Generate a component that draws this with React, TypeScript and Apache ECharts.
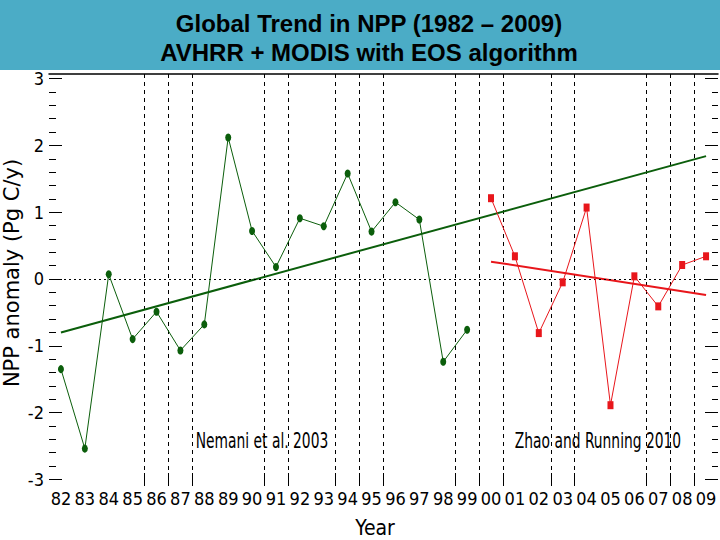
import React, { useEffect, useRef } from "react";
import * as echarts from "echarts";

// ---- data ----
const years = ["82","83","84","85","86","87","88","89","90","91","92","93","94","95","96","97","98","99","00","01","02","03","04","05","06","07","08","09"];
const greenYears = ["82","83","84","85","86","87","88","89","90","91","92","93","94","95","96","97","98","99"];
const greenValues = [-1.35, -2.54, 0.07, -0.9, -0.49, -1.07, -0.68, 2.12, 0.72, 0.18, 0.91, 0.79, 1.58, 0.71, 1.15, 0.89, -1.24, -0.76];
const redYears = ["00","01","02","03","04","05","06","07","08","09"];
const redValues = [1.21, 0.34, -0.81, -0.05, 1.07, -1.89, 0.04, -0.41, 0.21, 0.34];
const greenTrendYears = ["82", "09"];
const greenTrendValues = [-0.8, 1.84];
const redTrendYears = ["00", "09"];
const redTrendValues = [0.26, -0.24];
const yTickLabels = [-3, -2, -1, 0, 1, 2, 3];
// dashed separators drawn between a year and the next one
const dividerAfter = ["85","86","87","90","91","93","94","95","98","99","00","02","03","06","07","08"];

const GREEN = "#0b5e0b";
const RED = "#e8161b";
const NARROW = "'Liberation Sans Narrow', 'DejaVu Sans Condensed', 'Arial Narrow', sans-serif";

const idx = (y: string) => years.indexOf(y);
const dividerPos = dividerAfter.map((y) => idx(y) + 0.5);
const yearPos = years.map((_, i) => i);
const minorTicks: number[] = [];
for (let k = -15; k <= 15; k++) {
  if (k % 5 !== 0) minorTicks.push(k / 5);
}

const Y_MIN = -3.1;
const Y_MAX = 3.07;
const GRID = { left: 49, right: 2, top: 74, bottom: 54 };

function buildOption(): any {
  const yBase = {
    type: "value",
    min: Y_MIN,
    max: Y_MAX,
    axisLine: { show: false, onZero: false },
    splitLine: { show: false },
  };
  const annot = (text: string, x: number) => ({
    type: "text",
    x,
    y: 440,
    scaleX: 0.7,
    style: {
      text,
      fill: "#000",
      font: `22px 'DejaVu Sans Condensed', 'DejaVu Sans', sans-serif`,
      textAlign: "center",
      textVerticalAlign: "middle",
    },
  });
  return {
    animation: false,
    backgroundColor: "#ffffff",
    grid: [{ ...GRID }, { ...GRID }],
    xAxis: [
      {
        type: "value",
        gridIndex: 0,
        min: -0.5,
        max: 27.5,
        position: "bottom",
        axisLine: { show: false, onZero: false },
        axisTick: {
          show: true,
          inside: true,
          length: 13,
          customValues: dividerPos,
          lineStyle: { color: "#000", width: 1 },
        },
        splitLine: {
          show: true,
          lineStyle: { color: "#000", width: 1, type: [4, 4] },
        },
        axisLabel: {
          customValues: yearPos,
          formatter: (v: number) => years[Math.round(v)],
          fontSize: 18,
          fontFamily: NARROW,
          color: "#000",
          margin: 3,
        },
      },
      {
        type: "value",
        gridIndex: 0,
        min: -0.5,
        max: 27.5,
        position: "top",
        axisLine: { show: true, onZero: false, lineStyle: { color: "#000", width: 1.5 } },
        axisTick: { show: false },
        axisLabel: { show: false },
        splitLine: { show: false },
      },
      {
        type: "value",
        gridIndex: 1,
        min: -0.5,
        max: 27.5,
        axisLine: { show: false, onZero: false },
        axisTick: { show: false },
        axisLabel: { show: false },
        splitLine: { show: false },
      },
    ],
    yAxis: [
      {
        ...yBase,
        gridIndex: 0,
        position: "left",
        axisTick: { show: true, inside: true, length: 13, customValues: yTickLabels, lineStyle: { color: "#000" } },
        axisLabel: { customValues: yTickLabels, fontSize: 18, fontFamily: NARROW, color: "#000", margin: 5 },
      },
      {
        ...yBase,
        gridIndex: 0,
        position: "right",
        axisTick: { show: true, inside: true, length: 13, customValues: yTickLabels, lineStyle: { color: "#000" } },
        axisLabel: { show: false },
      },
      {
        ...yBase,
        gridIndex: 1,
        position: "left",
        axisTick: { show: true, inside: true, length: 7, customValues: minorTicks, lineStyle: { color: "#000", width: 1 } },
        axisLabel: { show: false },
      },
      {
        ...yBase,
        gridIndex: 1,
        position: "right",
        axisTick: { show: true, inside: true, length: 6, customValues: minorTicks, lineStyle: { color: "#000", width: 1 } },
        axisLabel: { show: false },
      },
    ],
    series: [
      {
        type: "line",
        name: "Nemani",
        xAxisIndex: 0,
        yAxisIndex: 0,
        data: greenYears.map((y, i) => [idx(y), greenValues[i]]),
        symbol: "circle",
        symbolSize: [6, 8],
        itemStyle: { color: GREEN },
        lineStyle: { color: GREEN, width: 1 },
        z: 5,
        markLine: {
          silent: true,
          symbol: ["none", "none"],
          label: { show: false },
          lineStyle: { color: "#000", width: 1, type: [2, 3] },
          data: [{ yAxis: 0 }],
        },
      },
      {
        type: "line",
        name: "Zhao",
        xAxisIndex: 0,
        yAxisIndex: 0,
        data: redYears.map((y, i) => [idx(y), redValues[i]]),
        symbol: "rect",
        symbolSize: [6, 8],
        itemStyle: { color: RED },
        lineStyle: { color: RED, width: 1 },
        z: 5,
      },
      {
        type: "line",
        name: "Nemani trend",
        xAxisIndex: 0,
        yAxisIndex: 0,
        data: greenTrendYears.map((y, i) => [idx(y), greenTrendValues[i]]),
        showSymbol: false,
        symbol: "none",
        lineStyle: { color: GREEN, width: 2 },
        z: 4,
      },
      {
        type: "line",
        name: "Zhao trend",
        xAxisIndex: 0,
        yAxisIndex: 0,
        data: redTrendYears.map((y, i) => [idx(y), redTrendValues[i]]),
        showSymbol: false,
        symbol: "none",
        lineStyle: { color: RED, width: 2 },
        z: 4,
      },
    ],
    graphic: [
      { type: "rect", left: 0, top: 0, shape: { width: 720, height: 70 }, style: { fill: "#4BACC6" }, z: 0 },
      {
        type: "text",
        x: 369,
        y: 23,
        style: {
          text: "Global Trend in NPP (1982 – 2009)",
          fill: "#000",
          font: "bold 24px 'Liberation Sans', Arial, sans-serif",
          textAlign: "center",
          textVerticalAlign: "middle",
        },
      },
      {
        type: "text",
        x: 369,
        y: 52,
        style: {
          text: "AVHRR + MODIS with EOS algorithm",
          fill: "#000",
          font: "bold 24px 'Liberation Sans', Arial, sans-serif",
          textAlign: "center",
          textVerticalAlign: "middle",
        },
      },
      {
        type: "text",
        x: 11.5,
        y: 273,
        rotation: Math.PI / 2,
        style: {
          text: "NPP anomaly (Pg C/y)",
          fill: "#000",
          font: "21px 'DejaVu Sans', sans-serif",
          textAlign: "center",
          textVerticalAlign: "middle",
        },
      },
      {
        type: "text",
        x: 375,
        y: 528,
        style: {
          text: "Year",
          fill: "#000",
          font: `21px ${NARROW}`,
          textAlign: "center",
          textVerticalAlign: "middle",
        },
      },
      annot("Nemani et al. 2003", 262),
      annot("Zhao and Running 2010", 598),
    ],
  };
}

export default function App() {
  const ref = useRef<HTMLDivElement>(null);
  useEffect(() => {
    if (!ref.current) return;
    const chart = echarts.init(ref.current, null, { renderer: "svg" });
    chart.setOption(buildOption());
    return () => chart.dispose();
  }, []);
  return (
    <div
      ref={ref}
      style={{ position: "absolute", left: 0, top: 0, width: 720, height: 540, background: "#fff" }}
    />
  );
}
